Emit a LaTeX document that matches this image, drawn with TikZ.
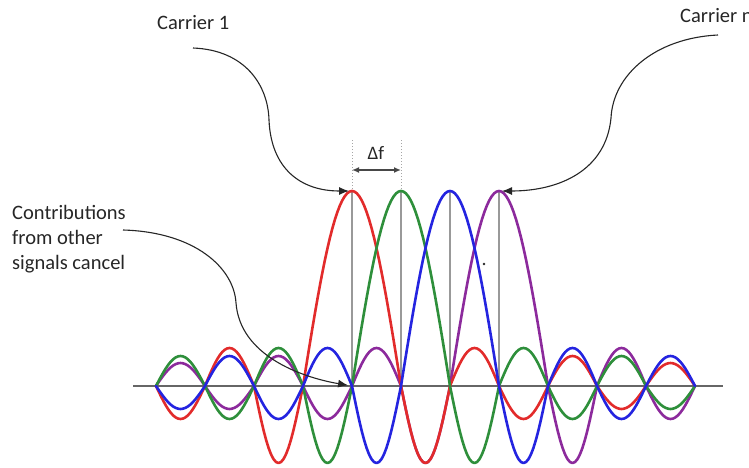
\documentclass[tikz,border=0pt]{standalone}
\usepackage{fontspec}
\setmainfont{Carlito}
\usetikzlibrary{arrows.meta,positioning}
\definecolor{cred}{HTML}{E22B2B}
\definecolor{cgreen}{HTML}{2E8F3B}
\definecolor{cblue}{HTML}{2424E0}
\definecolor{cpurple}{HTML}{8C2A9C}
\definecolor{ink}{HTML}{262626}

\begin{document}
\begin{tikzpicture}[
  x=1pt,y=-1pt,
  label/.style={inner sep=0pt,text=ink,font=\fontsize{20.5}{25}\selectfont,align=left},
  carrier/.style={line width=2.6pt,line cap=round,line join=round,draw=#1},
  pointer/.style={-{Latex[length=10pt,width=8pt]},line width=1.1pt,draw=ink,shorten >=3pt},
  guide/.style={line width=1.6pt,draw=black!40},
  axis/.style={line width=2pt,draw=black!60},
  dim/.style={{Latex[length=7pt,width=6pt]}-{Latex[length=7pt,width=6pt]},line width=1.5pt,draw=ink!85}
]
\useasboundingbox (0,0) rectangle (749,468);
\node[label,anchor=base west] (carrier1) at (157,30) {Carrier 1};
\node[label,anchor=base west] (carriern) at (680,23) {Carrier n};
\node[label,anchor=north west] (cancel) at (12,205) {Contributions\\from other\\signals cancel};

\draw[axis] (133,386) -- (723,386);
\foreach \c [count=\i] in {352,401,450,499} {
  \coordinate (peak\i) at (\c,191);
  \coordinate (zero\i) at (\c,386);
  \draw[guide] (zero\i) -- (peak\i);
}

\coordinate (top1) at (352,140);
\coordinate (top2) at (401,140);
\draw[dotted,line width=1pt,black!35] (top1) -- (peak1) (top2) -- (peak2);
\coordinate (dimL) at (352,170);
\coordinate (dimR) at (401,170);
\draw[dim] (dimL) -- (dimR);
\node[text=ink,font=\fontsize{19}{22}\selectfont,inner sep=0pt] (deltaf) at (376,153) {Δf};

\foreach \c/\col/\i in {499/cpurple/3,352/cred/0,401/cgreen/1,450/cblue/2} {
  \draw[carrier=\col] plot[domain=-1:1,samples=41] ({\c+49*\x},{386-195*cos(90*\x)});
  \foreach \k/\a in {1/77,2/38,3/33,4/30,5/23,6/23} {
    \pgfmathtruncatemacro\kk{\k+1}
    \ifnum\k<\numexpr4+\i\relax
      \draw[carrier=\col] plot[domain=-\kk:-\k,samples=21] ({\c+49*\x},{386-\a*sin(180*abs(\x))});
    \fi
    \ifnum\k<\numexpr7-\i\relax
      \draw[carrier=\col] plot[domain=\k:\kk,samples=21] ({\c+49*\x},{386-\a*sin(180*\x)});
    \fi
  }
}
\fill[ink] (484,264) circle[radius=1.4pt];

\coordinate (tail1) at (193,48);
\coordinate (tailn) at (718,35);
\coordinate (tail0) at (123,230);
\draw[pointer] (tail1) .. controls (245,50) and (268,85) .. (269,120)
  .. controls (271,168) and (300,191) .. (peak1);
\draw[pointer] (tailn) .. controls (655,38) and (613,75) .. (611,118)
  .. controls (606,170) and (560,191) .. (peak4);
\draw[pointer,shorten >=4pt] (tail0) .. controls (195,232) and (234,268) .. (236,303)
  .. controls (240,355) and (300,377) .. (zero1);
\end{tikzpicture}
\end{document}
